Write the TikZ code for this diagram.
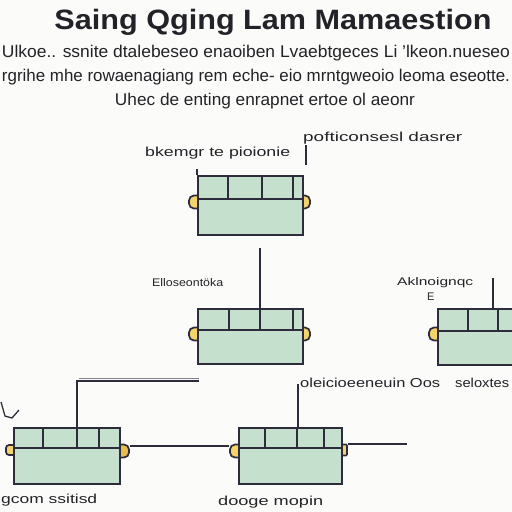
\documentclass[tikz,border=0pt]{standalone}
\usepackage{fontspec}
\usetikzlibrary{calc}
\setmainfont{Liberation Sans}
\definecolor{inkc}{HTML}{2E2C3C}
\definecolor{boxg}{HTML}{C6E0CE}
\definecolor{knobc}{HTML}{F3D46A}
\definecolor{knobo}{HTML}{E9BC4F}
\definecolor{bgc}{HTML}{FBFBF9}
\definecolor{txtc}{HTML}{222228}
\newcommand\fw[2]{\resizebox{#1}{\height}{#2}}
\begin{document}
\begin{tikzpicture}[x=1pt,y=-1pt,
  ink/.style={draw=inkc, line width=1.7pt},
  unitbox/.style={ink, fill=boxg, rectangle, inner sep=0pt, anchor=north west},
  knob/.style={ink, fill=knobc, rectangle, rounded corners=5pt, inner sep=0pt, minimum width=16pt, minimum height=13pt},
  lbl/.style={text=txtc, inner sep=0pt, font=\fontsize{13}{15}\selectfont},
  sub/.style={text=txtc, inner sep=0pt, font=\fontsize{17}{20}\selectfont}]
\useasboundingbox (0,0) rectangle (512,512);
\fill[bgc] (0,0) rectangle (512,512);
\clip (0,0) rectangle (512,512);

% title and intro
\node[text=txtc, inner sep=0pt, font=\bfseries\fontsize{28}{32}\selectfont] (title) at (273,22) {\fw{437pt}{Saing Qging Lam Mamaestion}};
\node[sub] (s1) at (256,53) {\fw{508pt}{Ulkoe.. ssnite dtalebeseo enaoiben Lvaebtgeces Li 'lkeon.nueseo}};
\node[sub] (s2) at (256,77) {\fw{508pt}{rgrihe mhe rowaenagiang rem eche- eio mrntgweoio leoma eseotte.}};
\node[sub] (s3) at (265,101) {\fw{300pt}{Uhec de enting enrapnet ertoe ol aeonr}};

% knobs (drawn first, boxes cover half)
\node[knob] (k1l) at (197,202) {};
\node[knob] (k1r) at (302,202) {};
\node[knob] (k2l) at (197,334) {};
\node[knob] (k2r) at (302,334) {};
\node[knob] (k3l) at (437,334) {};
\node[knob, minimum width=10pt, minimum height=10pt, rounded corners=3pt] (k4l) at (11,450) {};
\node[knob, fill=knobo] (k4r) at (121,451) {};
\node[knob] (k5l) at (238,451) {};
\node[knob, minimum width=12pt, minimum height=11pt, rounded corners=1pt] (k5r) at (341,450) {};

% boxes
\node[unitbox, minimum width=105pt, minimum height=59pt] (b1) at (197,175) {};
\node[unitbox, minimum width=105pt, minimum height=55pt] (b2) at (197,308) {};
\node[unitbox, minimum width=90pt, minimum height=56pt] (b3) at (437,308) {};
\node[unitbox, minimum width=106pt, minimum height=56pt] (b4) at (13,427) {};
\node[unitbox, minimum width=103pt, minimum height=56pt] (b5) at (238,427) {};

% box internals
\draw[ink] (197,199) -- (302,199) (228,175) -- (228,199) (262,175) -- (262,199) (293,175) -- (293,199);
\draw[ink] (197,330) -- (302,330) (229,308) -- (229,330) (260,308) -- (260,330) (293,308) -- (293,330);
\draw[ink] (437,331) -- (527,331) (468,308) -- (468,331) (498,308) -- (498,331);
\draw[ink] (13,448) -- (119,448) (43,427) -- (43,448) (77,427) -- (77,448) (99,427) -- (99,448);
\draw[ink] (238,448) -- (341,448) (265,427) -- (265,448) (297,427) -- (297,448) (324,427) -- (324,448);

% connector coordinates
\coordinate (c1a) at (306,145);
\coordinate (c1b) at (306,165);
\coordinate (c1t) at (197,169);
\coordinate (c12) at (260,248);
\coordinate (c3a) at (493,278);
\coordinate (c4a) at (77,381);
\coordinate (c4b) at (199,381);
\coordinate (c5a) at (298,384);
\coordinate (c5e) at (407,444);
\coordinate (tk1) at (1,402);
\coordinate (tk2) at (5,416);
\coordinate (tk3) at (12,418);
\coordinate (tk4) at (19,410);

% connectors
\draw[ink] (c1a) -- (c1b);
\draw[ink, line width=1.4pt] (b1.north west) -- (c1t);
\draw[ink] (c12) -- (c12 |- b2.north);
\draw[ink] (c3a) -- (c3a |- b3.north);
\draw[ink] (b4.north -| c4a) -- (c4a) -- (c4b);
\draw[draw=inkc!60, line width=0.6pt] ($(c4a)+(2,-3)$) -- ($(c4b)+(0,-3)$);
\draw[ink] (c5a) -- (c5a |- b5.north);
\draw[ink] (k4r.east |- 0,446) -- (k5l.west |- 0,446);
\draw[ink] (k5r.east |- c5e) -- (c5e);
\draw[ink, line width=1.3pt] (tk1) -- (tk2) -- (tk3) -- (tk4);

% labels
\node[lbl, anchor=west] (l1) at (145,153) {\fw{145pt}{bkemgr te pioionie}};
\node[lbl, anchor=west] (l2) at (303,138) {\fw{159pt}{pofticonsesl dasrer}};
\node[lbl, anchor=west, font=\fontsize{11}{13}\selectfont] (l3) at (152,283) {\fw{71pt}{Elloseontöka}};
\node[lbl, anchor=west, font=\fontsize{11}{13}\selectfont] (l4) at (397,283) {\fw{76pt}{Aklnoignqc}};
\node[lbl, anchor=west, font=\fontsize{11}{13}\selectfont] (l4b) at (427,297) {E};
\node[lbl, anchor=west] (l5) at (300,383) {\fw{140pt}{oleicioeeneuin Oos}};
\node[lbl, anchor=west] (l6) at (455,383) {\fw{54pt}{seloxtes}};
\node[lbl, anchor=west] (l7) at (1,500) {\fw{96pt}{gcom ssitisd}};
\node[lbl, anchor=west] (l8) at (218,502) {\fw{105pt}{dooge mopin}};
\end{tikzpicture}
\end{document}
